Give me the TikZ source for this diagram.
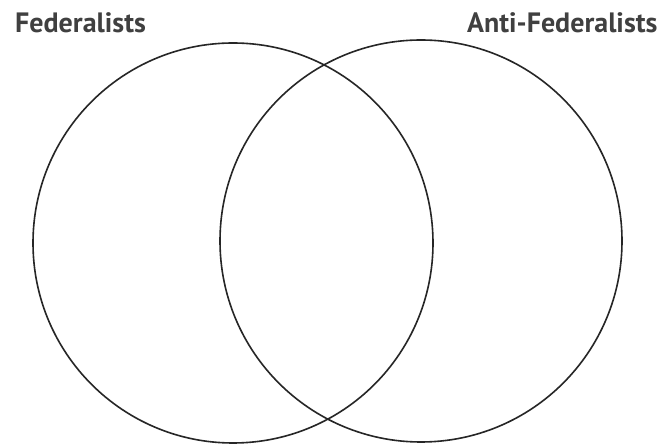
\documentclass[tikz,border=0pt]{standalone}
\usepackage{fontspec}
\setmainfont{PT Sans}
\begin{document}
\begin{tikzpicture}[x=1pt,y=-1pt,
  ring/.style={draw=black!85,line width=1.6pt},
  heading/.style={anchor=base west,inner sep=0pt,font=\fontsize{28}{30}\selectfont\bfseries,text=black!75}]
\clip (0,0) rectangle (657,446);
\fill[white] (0,0) rectangle (657,446);
\node[ring,circle,minimum size=400pt,inner sep=0pt] (fed) at (233,243) {};
\node[ring,circle,minimum size=402pt,inner sep=0pt] (anti) at (421,241) {};
\node[heading] (fedlabel) at (15,33) {Federalists};
\node[heading] (antilabel) at (467,33) {Anti-Federalists};
\end{tikzpicture}
\end{document}
